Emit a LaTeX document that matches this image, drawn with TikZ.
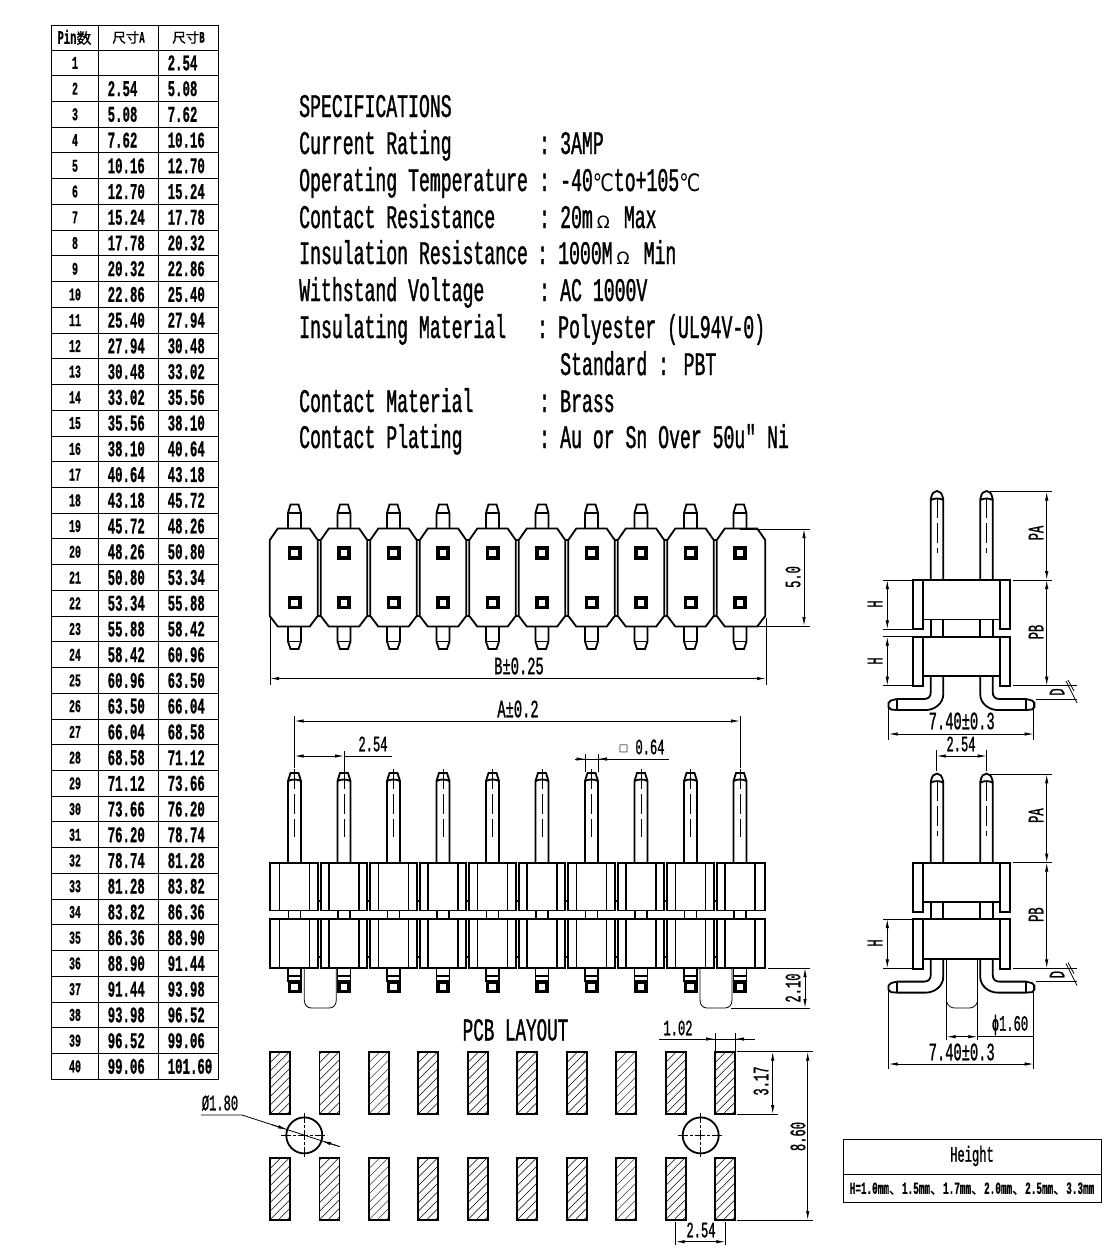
\documentclass[tikz,border=0pt]{standalone}
\usepackage{fontspec}
\usepackage{graphicx}
\usetikzlibrary{arrows.meta}
\newfontfamily\cadr[FakeStretch=.55,FakeBold=1]{Liberation Mono}
\newfontfamily\cadb[FakeStretch=.55,FakeBold=.6]{Liberation Mono Bold}
\newfontfamily\cjk[FakeBold=1]{Noto Sans CJK SC}
\newfontfamily\symb{DejaVu Sans}
\newcommand{\dgc}{\scalebox{.78}[1]{\symb\fontsize{24}{24}\selectfont ℃}}
\newcommand{\ohmg}{\hspace{4pt}{\symb\fontsize{17}{17}\selectfont Ω}\hspace{14pt}}
\tikzset{
  ol/.style={line width=1.8pt,line join=miter},
  tn/.style={line width=.8pt},
  grid/.style={line width=.9pt},
  cline/.style={line width=.7pt,dash pattern=on 20pt off 5pt},
  dimline/.style={line width=.8pt,{Latex[length=9pt,width=3.4pt]}-{Latex[length=9pt,width=3.4pt]}},
  dimr/.style={line width=.8pt,-{Latex[length=9pt,width=3.4pt]}},
  tx/.style={inner sep=0pt,font=\cadr\fontsize{22}{22}\selectfont},
  txw/.style={inner sep=0pt,font=\cadr\fontsize{25}{25}\selectfont},
  sp/.style={inner sep=0pt,anchor=base west,font=\cadr\fontsize{33}{33}\selectfont},
  cell/.style={inner sep=0pt,font=\cadb\fontsize{22.5}{22.5}\selectfont},
  hatchline/.style={line width=.5pt},
}
\newcommand{\hatchpad}[2]{%
  \begin{scope}
    \clip (#1-10,#2) rectangle (#1+10,#2+62.5);
    \foreach \k in {0,...,10} {\draw[hatchline] (#1-14,#2+\k*8.5-2) -- (#1+14,#2+\k*8.5-30);}
  \end{scope}
  \draw[ol] (#1-10,#2) rectangle (#1+10,#2+62.5);
}
\newcommand{\sideview}{%
  \foreach \c in {937,986.5} {
    \draw[ol] (\c-6.2,580) -- (\c-6.2,499) .. controls (\c-5,493) and (\c-3,491) .. (\c,491) .. controls (\c+3,491) and (\c+5,493) .. (\c+6.2,499) -- (\c+6.2,580);
    \draw[ol] (\c-6.2,500) .. controls (\c-3,498) and (\c+3,498) .. (\c+6.2,500);
    \draw[cline] (\c,498) -- (\c,553);
    \draw[ol] (\c-6.2,620) -- (\c-6.2,636.7) (\c+6.2,620) -- (\c+6.2,636.7);
  }
  \foreach \t in {580,636.7} {
    \draw[ol] (923.3,\t) rectangle (1000,\t+39.5);
    \draw[ol] (912.7,\t) rectangle (923.3,\t+49.3);
    \draw[ol] (1000,\t) rectangle (1010,\t+49.3);
  }
  \draw[ol] (930.8,676.2) -- (930.8,692) .. controls (930.8,697) and (928,699) .. (924,699) -- (896.7,699);
  \draw[ol] (943.3,676.2) -- (943.3,694) .. controls (943.3,704) and (934,710) .. (926,710) -- (896.7,710);
  \draw[ol] (896.7,699) -- (896.7,710);
  \draw[ol] (896.7,699) -- (891,700.5) -- (888.5,703) -- (888.5,707) -- (891,709.5) -- (896.7,710);
  \draw[ol] (992.7,676.2) -- (992.7,692) .. controls (992.7,697) and (995.5,699) .. (999.5,699) -- (1026,699);
  \draw[ol] (980.2,676.2) -- (980.2,694) .. controls (980.2,704) and (989.5,710) .. (997.5,710) -- (1026,710);
  \draw[ol] (1026,699) -- (1026,710);
  \draw[ol] (1026,699) -- (1032,700.5) -- (1034.5,703) -- (1034.5,707) -- (1032,709.5) -- (1026,710);
  \draw[tn] (990,491.7) -- (1052,491.7);
  \draw[tn] (1013,580) -- (1052,580);
  \draw[tn] (1013,685.7) -- (1077,685.7);
  \draw[tn] (1036,699) -- (1077,699);
  \draw[dimline] (1046.7,491.7) -- (1046.7,580);
  \draw[dimline] (1046.7,580) -- (1046.7,685.7);
  \draw[tn] (1066,681) -- (1077,703);
  \draw[tn] (1068,680) -- (1074,691);
  \node[tx,rotate=90] at (1036,533) {PA};
  \node[tx,rotate=90] at (1036,632) {PB};
  \node[tx,rotate=90] at (1057,692) {D};
}
\begin{document}
\begin{tikzpicture}[x=1pt,y=-1pt]
\useasboundingbox (0,0) rectangle (1117,1251);
\fill[white] (0,0) rectangle (1117,1251);

%%% table
\draw[grid] (51,25) rectangle (218.5,1079);
\foreach \x in {98.5,158.5} \draw[grid] (\x,25) -- (\x,1079);
\foreach \r in {0,...,40} \draw[grid] (51,50+25.73*\r) -- (218.5,50+25.73*\r);
\node[inner sep=0pt] (h1) at (74.5,37.5) {{\cadb\fontsize{19}{19}\selectfont Pin}{\cjk\fontsize{15}{15}\selectfont 数}};
\node[inner sep=0pt] (h2) at (128.5,37.5) {{\cjk\fontsize{13.5}{13.5}\selectfont 尺寸}{\cadb\fontsize{16}{16}\selectfont A}};
\node[inner sep=0pt] (h3) at (188.5,37.5) {{\cjk\fontsize{13.5}{13.5}\selectfont 尺寸}{\cadb\fontsize{16}{16}\selectfont B}};
\foreach \n/\a/\b in {1//2.54,2/2.54/5.08,3/5.08/7.62,4/7.62/10.16,5/10.16/12.70,6/12.70/15.24,7/15.24/17.78,8/17.78/20.32,9/20.32/22.86,10/22.86/25.40,11/25.40/27.94,12/27.94/30.48,13/30.48/33.02,14/33.02/35.56,15/35.56/38.10,16/38.10/40.64,17/40.64/43.18,18/43.18/45.72,19/45.72/48.26,20/48.26/50.80,21/50.80/53.34,22/53.34/55.88,23/55.88/58.42,24/58.42/60.96,25/60.96/63.50,26/63.50/66.04,27/66.04/68.58,28/68.58/71.12,29/71.12/73.66,30/73.66/76.20,31/76.20/78.74,32/78.74/81.28,33/81.28/83.82,34/83.82/86.36,35/86.36/88.90,36/88.90/91.44,37/91.44/93.98,38/93.98/96.52,39/96.52/99.06,40/99.06/101.60} {
  \pgfmathsetmacro\yy{50+25.73*(\n-1)+12.9}
  \node[cell,font=\cadb\fontsize{18}{18}\selectfont] (n\n) at (75,\yy) {\n};
  \node[cell,anchor=west] (a\n) at (107.5,\yy) {\a};
  \node[cell,anchor=west] (b\n) at (167.5,\yy) {\b};
}

%%% specifications
\node[sp] (s0) at (299,117) {SPECIFICATIONS};
\node[sp] (s1) at (299,154) {Current Rating};
\node[sp] (s1c) at (539,154) {:};
\node[sp] (s1v) at (560,154) {3AMP};
\node[sp] (s2) at (299,191) {Operating Temperature};
\node[sp] (s2c) at (539,191) {:};
\node[sp] (s2v) at (560,191) {-40\dgc to+105\dgc};
\node[sp] (s3) at (299,228) {Contact Resistance};
\node[sp] (s3c) at (539,228) {:};
\node[sp] (s3v) at (560,228) {20m\ohmg Max};
\node[sp] (s4) at (299,264) {Insulation Resistance};
\node[sp] (s4c) at (537,264) {:};
\node[sp] (s4v) at (558,264) {1000M\ohmg Min};
\node[sp] (s5) at (299,301) {Withstand Voltage};
\node[sp] (s5c) at (539,301) {:};
\node[sp] (s5v) at (560,301) {AC 1000V};
\node[sp] (s6) at (299,338) {Insulating Material};
\node[sp] (s6c) at (537,338) {:};
\node[sp] (s6v) at (558,338) {Polyester (UL94V-0)};
\node[sp] (s6b) at (560,375) {Standard : PBT};
\node[sp] (s7) at (299,412) {Contact Material};
\node[sp] (s7c) at (539,412) {:};
\node[sp] (s7v) at (560,412) {Brass};
\node[sp] (s8) at (299,448) {Contact Plating};
\node[sp] (s8c) at (539,448) {:};
\node[sp] (s8v) at (560,448) {Au or Sn Over 50u″ Ni};

%%% top view and middle view, ten positions
\foreach \i in {0,...,9} {
  \pgfmathsetmacro\c{294.5+49.5*\i}
  \pgfmathsetmacro\L{\c-23.2-(\i==0)*1.5}
  \pgfmathsetmacro\R{\c+23.2+(\i==9)*2}
  % top view pins
  \draw[ol] (\c-6.5,528) -- (\c-6.5,513) -- (\c-4,504.5) -- (\c+4,504.5) -- (\c+6.5,513) -- (\c+6.5,528);
  \draw[ol] (\c-6.5,513) -- (\c+6.5,513);
  \draw[ol] (\c-6.5,626) -- (\c-6.5,641.5) -- (\c-4,649) -- (\c+4,649) -- (\c+6.5,641.5) -- (\c+6.5,626);
  \draw[ol] (\c-6.5,641.5) -- (\c+6.5,641.5);
  % top view housing
  \draw[ol] (\L,540) -- (\L+8,528.5) -- (\R-8,528.5) -- (\R,540) -- (\R,616) -- (\R-8,626.5) -- (\L+8,626.5) -- (\L,616) -- cycle;
  \ifnum\i<9
    \draw[ol] (\R,540) -- (\R+3.1,540) (\R,616) -- (\R+3.1,616);
  \fi
  \draw[line width=3.6pt] (\c-5.2,548.2) rectangle (\c+5.2,557.8);
  \draw[line width=3.6pt] (\c-5.2,597.7) rectangle (\c+5.2,607.3);
  % middle view pins
  \draw[ol] (\c-6.5,863) -- (\c-6.5,781) -- (\c-4,773) -- (\c+4,773) -- (\c+6.5,781) -- (\c+6.5,863);
  \draw[ol] (\c-6.5,781) .. controls (\c-3,779) and (\c+3,779) .. (\c+6.5,781);
  \draw[cline] (\c,769) -- (\c,837);
  % middle view housing
  \foreach \t/\b in {863/910.5,918.6/967.6} {
    \draw[ol] (\L,\t) rectangle (\R,\b);
    \draw[ol] (\c-15,\t) -- (\c-15,\b) (\c+15,\t) -- (\c+15,\b);
  }
  \ifnum\i<9
    \draw[ol] (\R,901) -- (\R+3.1,901) (\R,957) -- (\R+3.1,957);
  \fi
  \draw[ol] (\c-6,910.5) -- (\c-6,918.6) (\c+6,910.5) -- (\c+6,918.6);
  % middle view feet
  \draw[ol] (\c-6.5,967.6) -- (\c-6.5,982) (\c+6.5,967.6) -- (\c+6.5,982) (\c-6.5,976) -- (\c+6.5,976);
  \draw[line width=3.6pt] (\c-5.2,982) rectangle (\c+5.2,991.5);
}
\draw[ol] (269.5,918.6) -- (766,918.6);

% pegs
\foreach \p in {304.3,700} {
  \draw[tn] (\p,968) -- (\p,1000) .. controls (\p,1005) and (\p+3,1008) .. (\p+7,1008) -- (\p+25,1008) .. controls (\p+29,1008) and (\p+32,1005) .. (\p+32,1000) -- (\p+32,968);
}

% top view dimensions
\draw[tn] (270,618) -- (270,685);
\draw[tn] (766,618) -- (766,685);
\draw[dimline] (270,678.5) -- (766,678.5);
\node[txw] (bl) at (519,666) {B±0.25};
\draw[tn] (740,529) -- (810,529) (740,626) -- (810,626);
\draw[dimline] (804,529) -- (804,626);
\node[tx,rotate=90] (five) at (793,577) {5.0};

% middle view dimensions
\draw[tn] (294.5,716) -- (294.5,768);
\draw[tn] (740,716) -- (740,768);
\draw[dimline] (294.5,721) -- (740,721);
\node[txw] (al) at (518,709) {A±0.2};
\draw[tn] (344,751) -- (344,769);
\draw[dimline] (294.5,756) -- (344,756);
\draw[tn] (344,756) -- (392,756);
\node[tx] (p254) at (373,744) {2.54};
\draw[tn] (585.5,754) -- (585.5,772) (598,754) -- (598,772);
\draw[tn] (575,759) -- (669,759);
\draw[dimr] (575,759) -- (585.5,759);
\draw[dimr] (609,759) -- (598,759);
\node[inner sep=0pt] (sq) at (623.5,749) {\symb\fontsize{10}{10}\selectfont □};
\node[tx] (p064) at (650,747) {0.64};
\draw[tn] (768,968) -- (810,968) (731,1008) -- (810,1008);
\draw[dimline] (805,968) -- (805,1008);
\node[tx,rotate=90] (p210) at (793,988) {2.10};

%%% side views
\sideview
\begin{scope}[yshift=-282.6pt]
\sideview
\end{scope}
% first side view dimensions
\foreach \t in {580,629.3,636.7,685.7} \draw[tn] (882.5,\t) -- (912,\t);
\draw[dimline] (887.3,580) -- (887.3,629.3);
\draw[dimline] (887.3,636.7) -- (887.3,685.7);
\node[tx,rotate=90] (h1a) at (875,604) {H};
\node[tx,rotate=90] (h1b) at (875,661) {H};
\draw[tn] (888.7,702) -- (888.7,740) (1033.7,702) -- (1033.7,740);
\draw[dimline] (888.7,734) -- (1033.7,734);
\node[txw] (w1) at (961.7,721) {7.40±0.3};
\node[tx] (p254b) at (961,744) {2.54};
\draw[tn] (936.7,750) -- (936.7,771) (986.7,750) -- (986.7,771);
\draw[dimline] (936.7,756) -- (986.7,756);
% second side view dimensions
\draw[tn] (882.5,919) -- (912,919) (882.5,968.3) -- (912,968.3);
\draw[dimline] (887.3,919) -- (887.3,968.3);
\node[tx,rotate=90] (h2a) at (875,943) {H};
\draw[tn] (946.7,958.3) -- (946.7,1040) (977.3,958.3) -- (977.3,1040);
\draw[tn] (946.7,1002) .. controls (948,1006) and (951,1008) .. (955,1008) -- (969,1008) .. controls (973,1008) and (976,1006) .. (977.3,1002);
\draw[dimline] (946.7,1036.7) -- (977.3,1036.7);
\draw[tn] (977.3,1036.7) -- (1033.7,1036.7);
\node[tx] (phi) at (1010,1025) {ϕ1.60};
\draw[tn] (888.7,985) -- (888.7,1069) (1033.7,985) -- (1033.7,1069);
\draw[dimline] (888.7,1064) -- (1033.7,1064);
\node[txw] (w2) at (961.7,1052) {7.40±0.3};

%%% PCB layout
\node[inner sep=0pt,font=\cadr\fontsize{32}{32}\selectfont] (pcb) at (515.5,1030) {PCB LAYOUT};
\foreach \i in {0,...,9} {
  \pgfmathsetmacro\c{280+49.45*\i}
  \hatchpad{\c}{1051.7}
  \hatchpad{\c}{1157.7}
}
\foreach \c in {304.3,700.7} {
  \draw[ol] (\c,1135.4) circle [radius=18pt];
  \draw[tn,dash pattern=on 10pt off 2pt on 3pt off 2pt] (\c-23,1135.4) -- (\c+23,1135.4);
  \draw[tn,dash pattern=on 10pt off 2pt on 3pt off 2pt] (\c,1112.5) -- (\c,1158.5);
}
\node[tx] (d180) at (220,1103) {Ø1.80};
\coordinate (ldr) at (242,1115);
\draw[tn] (201,1115) -- (ldr) -- (340,1146.7);
\draw[dimr] (272,1124.7) -- (287,1129.5);
\draw[dimr] (338,1146) -- (322,1141);
\draw[tn] (715,1033) -- (715,1051) (735,1033) -- (735,1051);
\draw[tn] (659,1039) -- (755,1039);
\draw[dimr] (695,1039) -- (715,1039);
\draw[dimr] (755,1039) -- (735,1039);
\node[tx] (p102) at (678,1028) {1.02};
\draw[tn] (737,1051.7) -- (813,1051.7) (737,1114) -- (778,1114) (737,1220) -- (813,1220);
\draw[dimline] (772.7,1051.7) -- (772.7,1114);
\node[tx,rotate=90] (p317) at (761,1081) {3.17};
\draw[dimline] (807.7,1051.7) -- (807.7,1220);
\node[tx,rotate=90] (p860) at (798,1136.5) {8.60};
\draw[tn] (675.7,1222) -- (675.7,1245) (725.3,1222) -- (725.3,1245);
\draw[dimline] (675.7,1241.7) -- (725.3,1241.7);
\node[tx] (p254c) at (701,1230) {2.54};

%%% height box
\draw[grid] (843.3,1139.3) rectangle (1101.7,1202.3);
\draw[grid] (843.3,1174.3) -- (1101.7,1174.3);
\node[tx] (ht) at (972,1156) {Height};
\newcommand{\cmk}{{\cjk\fontsize{13}{13}\selectfont 、}}
\node[inner sep=0pt,font=\cadb\fontsize{17}{17}\selectfont] (hv) at (972,1188.5) {H=1.0mm\cmk 1.5mm\cmk 1.7mm\cmk 2.0mm\cmk 2.5mm\cmk 3.3mm};
\end{tikzpicture}
\end{document}
